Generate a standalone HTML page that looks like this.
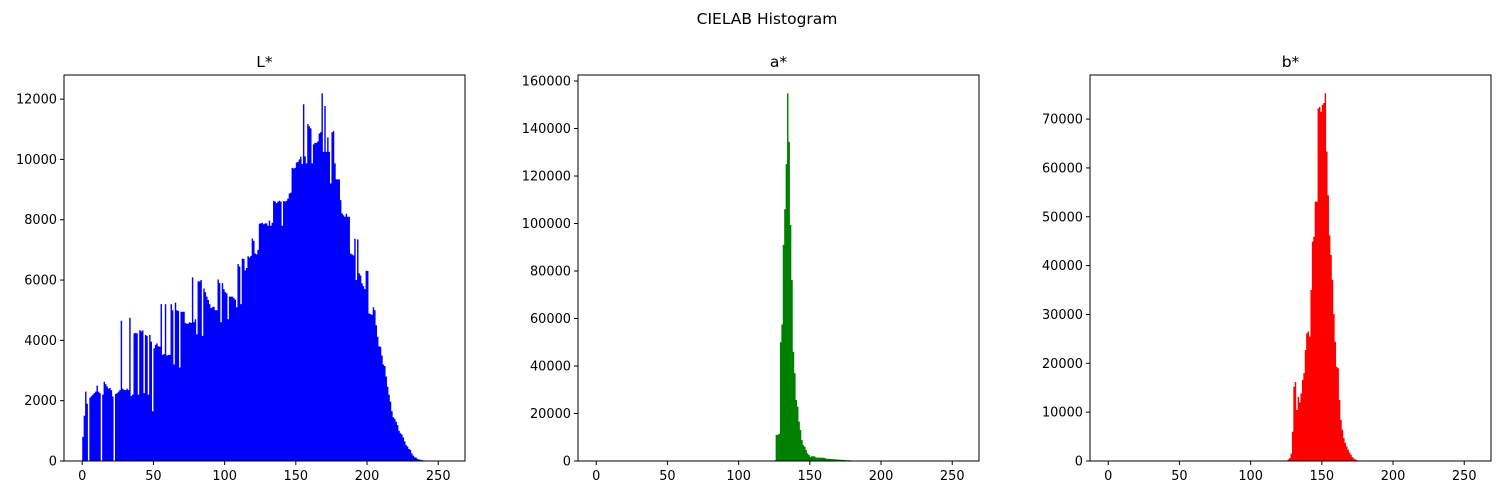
<!DOCTYPE html>
<html><head><meta charset="utf-8"><style>
body{margin:0;background:#fff;width:1500px;height:495px;overflow:hidden}
svg{display:block;font-family:"DejaVu Sans","Liberation Sans",sans-serif}
</style></head><body>
<svg id="chart" width="1500" height="495" xmlns="http://www.w3.org/2000/svg">
<text x="767" y="24" text-anchor="middle" font-size="15.5">CIELAB Histogram</text>
</svg>
<script>
const xTicks=[0,50,100,150,200,250];
const lValues=[800,1500,2300,1900,0,2100,2150,2200,2250,2300,2500,2300,2250,0,2200,2630,2550,2470,2400,2420,2350,2140,0,2220,2250,2300,2350,4650,2400,2360,2350,2400,2350,4750,2150,2200,4230,4250,4230,2200,4340,4300,4330,2250,4180,4150,2200,4180,3960,1650,3740,3850,3900,3800,3790,5200,3520,3550,5200,3500,3520,3520,5200,5000,3200,5250,5000,4980,3100,4950,4950,4950,4570,4550,4560,4600,4580,6090,4600,4700,4200,5960,5950,6000,4150,5720,5600,5450,5340,5200,5070,5100,5120,5000,5000,6020,5900,4600,5900,5700,5600,5560,4700,5450,5450,5450,5400,5350,5100,6530,6450,5200,6710,6700,6320,6400,6790,6750,6800,7380,7300,6880,6850,7000,7870,7880,7900,7850,7880,7880,7800,7970,7800,7900,8630,8600,8550,8600,8630,8600,7800,8620,8600,8630,8700,8870,8900,9720,9700,9720,9900,9920,10000,10090,9850,11830,10100,9870,11170,11100,11030,9870,10500,10550,10550,10600,10860,10900,12190,10250,11770,10250,10730,10250,9200,10900,10940,9870,9340,9340,9340,8650,8210,8150,8100,8200,8100,8100,6880,6850,6820,7370,6000,7350,6220,6150,5890,5800,5700,6310,6300,4890,4870,4850,5100,5000,4500,4120,3800,3790,3500,3200,3150,2800,2460,2200,1970,1650,1450,1400,1300,1190,1000,920,880,780,650,530,480,400,365,250,180,130,110,70,50,40,30,25,20,18,15,12,10,8,6,5,4,0,0,0,0,0,0,0];
const aPeak={125:300,126:11000,127:11000,128:11500,129:50000,130:57500,131:91000,132:106000,133:125000,134:154800,135:134400,136:99400,137:76200,138:46000,139:37000,140:25700,141:22900,142:16600,143:13000,144:8800,145:6700,146:6000,147:4600,148:3200,149:2500,150:1800,151:2000,152:2000,153:1900,154:1400,155:1400,156:1400,157:1400,158:1400,159:1300,160:1300,161:1000,162:950,163:900,164:850,165:800,166:800,167:750,168:700,169:650,170:600,171:550,172:500,173:450,174:400,175:350,176:300,177:300,178:300};
const bPeak={126:300,127:600,128:1500,129:6000,130:15200,131:16200,132:10450,133:13160,134:12000,135:13850,136:16600,137:18000,138:22700,139:26100,140:26500,141:25500,142:35000,143:44900,144:45900,145:53100,146:53100,147:72200,148:72500,149:71500,150:72900,151:73300,152:75260,153:63330,154:54400,155:46200,156:42200,157:37100,158:30100,159:24400,160:19300,161:19000,162:12500,163:8400,164:6400,165:4700,166:3700,167:3000,168:2300,169:1750,170:1300,171:800,172:500,173:300,174:200};
const aValues=[];const bValues=[];
for(let i=0;i<256;i++){aValues.push(aPeak[i]!==undefined?aPeak[i]:150);bValues.push(bPeak[i]!==undefined?bPeak[i]:60);}
const lYTicks=[0,2000,4000,6000,8000,10000,12000];
const aYTicks=[0,20000,40000,60000,80000,100000,120000,140000,160000];
const bYTicks=[0,10000,20000,30000,40000,50000,60000,70000];
const panels=[
 {name:'l-star',title:'L*',left:64,data:lValues,ticks:lYTicks,color:'#0000ff'},
 {name:'a-star',title:'a*',left:578,data:aValues,ticks:aYTicks,color:'#008000'},
 {name:'b-star',title:'b*',left:1090,data:bValues,ticks:bYTicks,color:'#ff0000'}];
const NS='http://www.w3.org/2000/svg';
const svgEl=document.getElementById('chart');
const plotTop=75,plotBottom=461,plotW=401;
function mk(tag,attrs,parent){const e=document.createElementNS(NS,tag);for(const k in attrs)e.setAttribute(k,attrs[k]);parent.appendChild(e);return e;}
panels.forEach(p=>{
 const g=mk('g',{},svgEl);
 
 
 const xmin=-12.8,xmax=268.8;
 const ymax=Math.max(...p.data)*1.05;
 const xs=v=>p.left+(v-xmin)/(xmax-xmin)*plotW;
 const ys=v=>plotBottom-v/ymax*(plotBottom-plotTop);
 let d='';
 p.data.forEach((v,i)=>{if(v<=0)return;const x0=xs(i),x1=xs(i+1),y=ys(v);d+=`M${x0.toFixed(2)},${plotBottom}V${y.toFixed(2)}H${x1.toFixed(2)}V${plotBottom}Z`;});
 const bars=mk('path',{d:d,fill:p.color},g);
 
 
 const frame=mk('rect',{x:p.left,y:plotTop,width:plotW,height:plotBottom-plotTop,fill:'none',stroke:'#000','stroke-width':1},g);
 
 
 const t=mk('text',{x:p.left+plotW/2,y:67,'text-anchor':'middle','font-size':15.5},g);t.textContent=p.title;
 
 
 xTicks.forEach(v=>{const x=xs(v);mk('line',{x1:x,x2:x,y1:plotBottom,y2:plotBottom+4,stroke:'#000'},g);
  const l=mk('text',{x:x,y:plotBottom+19,'text-anchor':'middle','font-size':12.9},g);l.textContent=v;
  
  });
 p.ticks.forEach(v=>{const y=ys(v);mk('line',{x1:p.left-4,x2:p.left,y1:y,y2:y,stroke:'#000'},g);
  const l=mk('text',{x:p.left-7,y:y+4.5,'text-anchor':'end','font-size':12.9},g);l.textContent=v;
  
  });
});
</script>
</body></html>
